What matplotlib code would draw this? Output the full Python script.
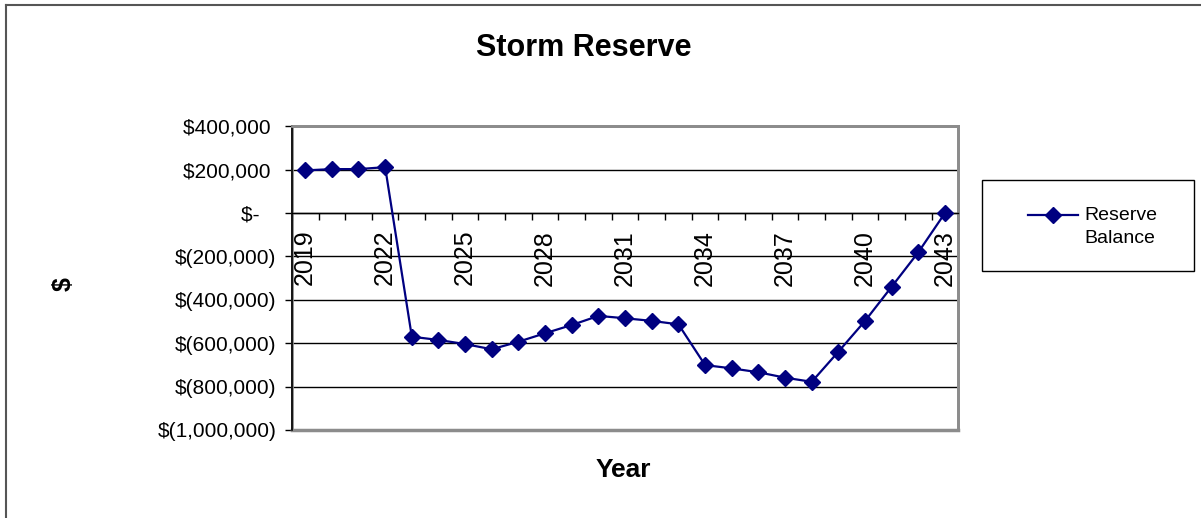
import matplotlib.pyplot as plt
from matplotlib.lines import Line2D
from matplotlib.patches import Rectangle

plt.rcParams['font.family'] = ['Liberation Sans', 'DejaVu Sans']

years = list(range(2019, 2044))
balance = [197000, 203000, 203000, 212000, -570000, -585000, -604000, -628000,
           -593000, -554000, -516000, -474000, -485000, -497000, -513000,
           -701000, -716000, -734000, -759000, -778000, -639000, -497000,
           -339000, -180000, 1000]
y_ticks = [400000, 200000, 0, -200000, -400000, -600000, -800000, -1000000]


def money(v):
    if v == 0:
        return '$-   '
    if v < 0:
        return '$({:,})'.format(-v)
    return '${:,} '.format(v)


fig = plt.figure(figsize=(12.01, 5.18), dpi=100)
ax = fig.add_axes([0.243, 0.170, 0.555, 0.586])

pos = list(range(len(years)))
ax.plot(pos, balance, color='#000080', lw=1.6, marker='D', ms=8,
        mec='#000080', mfc='#000080', zorder=4, clip_on=False)

ax.set_xlim(-0.5, len(years) - 0.5)
ax.set_ylim(-1000000, 400000)
ax.set_yticks(y_ticks)
ax.set_yticklabels([money(v) for v in y_ticks], fontsize=15)
ax.yaxis.grid(True, color='black', lw=1.0)
ax.set_axisbelow(True)

# category axis sits on the zero line, labels every third year
ax.spines['bottom'].set_position(('data', 0))
ax.spines['bottom'].set_color('black')
ax.spines['bottom'].set_linewidth(1.0)
ax.set_xticks([p - 0.5 for p in pos] + [pos[-1] + 0.5])
ax.set_xticklabels([])
ax.tick_params(axis='x', which='major', length=5, direction='out', width=1)
ax.set_xticks(pos[::3], minor=True)
ax.set_xticklabels([str(y) for y in years[::3]], minor=True, rotation=90,
                   fontsize=18)
ax.tick_params(axis='x', which='minor', length=0, pad=12)
ax.tick_params(axis='y', length=5, width=1, pad=6)

ax.spines['left'].set_color('black')
ax.spines['left'].set_linewidth(1.2)
for side in ('top', 'right'):
    ax.spines[side].set_color('#8c8c8c')
    ax.spines[side].set_linewidth(2)
ax.add_patch(Rectangle((0, 0), 1, 1, transform=ax.transAxes, fill=False,
                       edgecolor='#8c8c8c', lw=2, zorder=1, clip_on=False))
ax.plot([0, 1], [0, 0], transform=ax.transAxes, color='#8c8c8c', lw=2.5,
        clip_on=False, zorder=1)

fig.text(0.486, 0.908, 'Storm Reserve', fontsize=22, fontweight='bold',
         ha='center', va='center')
fig.text(0.519, 0.093, 'Year', fontsize=19, fontweight='bold',
         ha='center', va='center')
fig.text(0.053, 0.452, '$', fontsize=18, fontweight='bold', rotation=90,
         ha='center', va='center')

# outer chart border (top and left only)
fig.add_artist(Line2D([0.005, 0.005], [0.0, 0.991], color='#555555', lw=1.5))
fig.add_artist(Line2D([0.005, 1.0], [0.991, 0.991], color='#555555', lw=1.5))

# legend box
fig.add_artist(Rectangle((0.818, 0.477), 0.176, 0.176, fill=False,
                         edgecolor='black', lw=1.0))
fig.add_artist(Line2D([0.856, 0.898], [0.584, 0.584], color='#000080',
                      lw=1.6))
fig.add_artist(Line2D([0.877], [0.584], color='#000080', marker='D', ms=8,
                      lw=0, mfc='#000080', mec='#000080'))
fig.text(0.903, 0.584, 'Reserve', fontsize=14, ha='left', va='center')
fig.text(0.903, 0.540, 'Balance', fontsize=14, ha='left', va='center')

fig.savefig('out.png', dpi=100)
